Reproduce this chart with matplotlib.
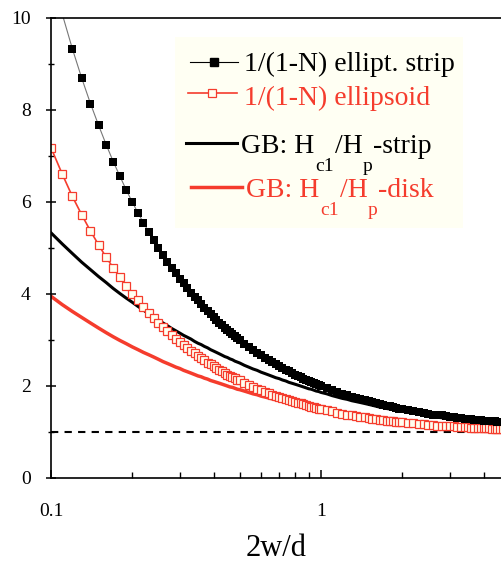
import matplotlib
matplotlib.use("Agg")
import matplotlib.pyplot as plt

# ---------------------------------------------------------------
# 1/(1-N) and geometrical-barrier ratio vs. aspect ratio 2w/d
# ---------------------------------------------------------------

# aspect ratio 2w/d (sampling points)
x = [0.10, 0.11, 0.12, 0.13, 0.14, 0.15, 0.16, 0.17, 0.18, 0.19,
     0.20, 0.21, 0.22, 0.23, 0.24, 0.25, 0.26, 0.27, 0.28, 0.29,
     0.30, 0.31, 0.32, 0.33, 0.34, 0.35, 0.36, 0.37, 0.38, 0.39,
     0.40, 0.41, 0.42, 0.43, 0.44, 0.45, 0.46, 0.47, 0.48, 0.49,
     0.50, 0.52, 0.54, 0.56, 0.58, 0.60, 0.62, 0.64, 0.66, 0.68,
     0.70, 0.72, 0.74, 0.76, 0.78, 0.80, 0.82, 0.84, 0.86, 0.88,
     0.90, 0.92, 0.94, 0.96, 0.98, 1.00, 1.05, 1.10, 1.15, 1.20,
     1.25, 1.30, 1.35, 1.40, 1.45, 1.50, 1.55, 1.60, 1.65, 1.70,
     1.75, 1.80, 1.85, 1.90, 1.95, 2.00, 2.1, 2.2, 2.3, 2.4,
     2.5, 2.6, 2.7, 2.8, 2.9, 3.0, 3.1, 3.2, 3.3, 3.4,
     3.5, 3.6, 3.7, 3.8, 3.9, 4.0, 4.1, 4.2, 4.3, 4.4,
     4.5, 4.6, 4.7]

# 1/(1-N) elliptical strip
strip = [11.00, 10.09, 9.33, 8.69, 8.14, 7.67, 7.25, 6.88, 6.56, 6.26,
         6.00, 5.76, 5.55, 5.35, 5.17, 5.00, 4.85, 4.70, 4.57, 4.45,
         4.33, 4.23, 4.13, 4.03, 3.94, 3.86, 3.78, 3.70, 3.63, 3.56,
         3.50, 3.44, 3.38, 3.33, 3.27, 3.22, 3.17, 3.13, 3.08, 3.04,
         3.00, 2.92, 2.85, 2.79, 2.72, 2.67, 2.61, 2.56, 2.52, 2.47,
         2.43, 2.39, 2.35, 2.32, 2.28, 2.25, 2.22, 2.19, 2.16, 2.14,
         2.11, 2.09, 2.06, 2.04, 2.02, 2.00, 1.95, 1.91, 1.87, 1.83,
         1.80, 1.77, 1.74, 1.71, 1.69, 1.67, 1.65, 1.63, 1.61, 1.59,
         1.57, 1.56, 1.54, 1.53, 1.51, 1.50, 1.48, 1.45, 1.43, 1.42,
         1.40, 1.38, 1.37, 1.36, 1.34, 1.33, 1.32, 1.31, 1.30, 1.29,
         1.29, 1.28, 1.27, 1.26, 1.26, 1.25, 1.24, 1.24, 1.23, 1.23,
         1.22, 1.22, 1.21]

# 1/(1-N) ellipsoid
ellipsoid = [7.18, 6.61, 6.12, 5.72, 5.37, 5.07, 4.80, 4.57, 4.36, 4.17,
             4.01, 3.86, 3.72, 3.59, 3.48, 3.37, 3.28, 3.19, 3.10, 3.03,
             2.95, 2.89, 2.82, 2.76, 2.71, 2.65, 2.60, 2.56, 2.51, 2.47,
             2.43, 2.39, 2.35, 2.32, 2.29, 2.25, 2.22, 2.19, 2.17, 2.14,
             2.12, 2.07, 2.02, 1.98, 1.94, 1.91, 1.87, 1.84, 1.81, 1.79,
             1.76, 1.74, 1.71, 1.69, 1.67, 1.65, 1.63, 1.62, 1.60, 1.58,
             1.57, 1.55, 1.54, 1.53, 1.51, 1.50, 1.47, 1.45, 1.42, 1.40,
             1.38, 1.36, 1.35, 1.33, 1.32, 1.30, 1.29, 1.28, 1.27, 1.26,
             1.25, 1.24, 1.23, 1.22, 1.22, 1.21, 1.20, 1.19, 1.17, 1.17,
             1.16, 1.15, 1.14, 1.13, 1.13, 1.12, 1.12, 1.11, 1.11, 1.10,
             1.10, 1.09, 1.09, 1.09, 1.08, 1.08, 1.08, 1.08, 1.07, 1.07,
             1.07, 1.07, 1.06]

# GB: Hc1/Hp strip
gb_strip = [5.33, 5.09, 4.88, 4.69, 4.53, 4.38, 4.25, 4.12, 4.01, 3.91,
            3.82, 3.73, 3.65, 3.57, 3.50, 3.43, 3.37, 3.31, 3.25, 3.20,
            3.15, 3.10, 3.06, 3.02, 2.97, 2.93, 2.90, 2.86, 2.83, 2.79,
            2.76, 2.73, 2.70, 2.67, 2.64, 2.62, 2.59, 2.57, 2.54, 2.52,
            2.50, 2.45, 2.41, 2.37, 2.34, 2.30, 2.27, 2.24, 2.21, 2.18,
            2.16, 2.13, 2.11, 2.08, 2.06, 2.04, 2.02, 2.00, 1.98, 1.96,
            1.94, 1.93, 1.91, 1.89, 1.88, 1.86, 1.83, 1.79, 1.76, 1.73,
            1.71, 1.68, 1.66, 1.64, 1.62, 1.60, 1.58, 1.56, 1.54, 1.53,
            1.51, 1.50, 1.49, 1.47, 1.46, 1.45, 1.43, 1.41, 1.39, 1.37,
            1.35, 1.34, 1.32, 1.31, 1.30, 1.29, 1.28, 1.26, 1.25, 1.25,
            1.24, 1.23, 1.22, 1.21, 1.21, 1.20, 1.19, 1.19, 1.18, 1.18,
            1.17, 1.17, 1.16]

# GB: Hc1/Hp disk
gb_disk = [3.95, 3.77, 3.62, 3.49, 3.37, 3.26, 3.16, 3.07, 2.99, 2.92,
           2.85, 2.79, 2.73, 2.68, 2.63, 2.58, 2.53, 2.49, 2.45, 2.41,
           2.38, 2.34, 2.31, 2.28, 2.25, 2.22, 2.20, 2.17, 2.15, 2.12,
           2.10, 2.08, 2.06, 2.04, 2.02, 2.00, 1.98, 1.97, 1.95, 1.93,
           1.92, 1.89, 1.86, 1.83, 1.81, 1.78, 1.76, 1.74, 1.72, 1.70,
           1.68, 1.66, 1.65, 1.63, 1.62, 1.60, 1.59, 1.57, 1.56, 1.55,
           1.54, 1.53, 1.51, 1.50, 1.49, 1.48, 1.46, 1.44, 1.42, 1.40,
           1.38, 1.37, 1.35, 1.34, 1.32, 1.31, 1.30, 1.29, 1.28, 1.27,
           1.26, 1.25, 1.24, 1.23, 1.23, 1.22, 1.21, 1.19, 1.18, 1.17,
           1.16, 1.15, 1.15, 1.14, 1.13, 1.12, 1.12, 1.11, 1.11, 1.10,
           1.10, 1.09, 1.09, 1.09, 1.08, 1.08, 1.08, 1.07, 1.07, 1.07,
           1.06, 1.06, 1.06]

y_major = [0, 2, 4, 6, 8, 10]
y_minor = [1, 3, 5, 7, 9]
x_major = [0.1, 1]
x_labels = ["0.1", "1"]

red = "#F53C2D"
cream = "#FFFFF0"
plt.rcParams["font.family"] = ["Liberation Serif", "DejaVu Serif"]

fig = plt.figure(figsize=(5.02, 5.62), dpi=100)
ax = fig.add_axes([51 / 502, 1 - 478 / 562, 451 / 502, 460 / 562])

# reference line N = 0
ax.axhline(1, color="black", lw=1.5, ls=(0, (3.5, 3)))

ax.plot(x, gb_strip, color="black", lw=2.2)
ax.plot(x, gb_disk, color=red, lw=2.5)
ax.plot(x, ellipsoid, color=red, lw=1.2, marker="s", ms=6, mfc=cream, mec=red, mew=0.9)
ax.plot(x, strip, color="#777777", lw=0.8, marker="s", ms=6, mfc="black", mec="black", mew=0)

ax.set_xscale("log")
ax.set_xlim(0.1, 4.68)
ax.set_ylim(0, 10)
ax.set_yticks(y_major)
ax.set_yticks(y_minor, minor=True)
ax.set_xticks(x_major)
ax.set_xticklabels(x_labels)
ax.spines["right"].set_visible(False)
for s in ax.spines.values():
    s.set_linewidth(1.2)
ax.tick_params(axis="y", which="major", direction="inout", length=7, width=1.1, labelsize=14, pad=11)
ax.tick_params(axis="y", which="minor", direction="inout", length=5, width=1.0)
ax.tick_params(axis="x", which="major", direction="in", length=6, width=1.1, labelsize=14, pad=18)
ax.tick_params(axis="x", which="minor", direction="in", length=4, width=1.0, labelbottom=False)
ax.set_xlabel("2w/d", fontsize=22, labelpad=10)

# legend drawn by hand (uneven spacing as in the original)
ax.add_patch(plt.Rectangle((0.275, 0.543), 0.638, 0.416, transform=ax.transAxes,
                           facecolor="#FFFFF3", edgecolor="none", zorder=5))
ax.plot([0.308, 0.415], [0.904, 0.904], transform=ax.transAxes, color="black", lw=0.8, zorder=6)
ax.plot([0.361], [0.904], transform=ax.transAxes, marker="s", ms=5.5, color="black", zorder=6)
ax.plot([0.304, 0.412], [0.837, 0.837], transform=ax.transAxes, color=red, lw=1.2, zorder=6)
ax.plot([0.357], [0.837], transform=ax.transAxes, marker="s", ms=5.5, mfc=cream, mec=red, mew=0.9, zorder=6)
ax.plot([0.299, 0.412], [0.728, 0.728], transform=ax.transAxes, color="black", lw=2.2, zorder=6)
ax.plot([0.310, 0.424], [0.633, 0.633], transform=ax.transAxes, color=red, lw=2.5, zorder=6)
fs = 20
ax.text(0.428, 0.900, "1/(1-N) ellipt. strip", transform=ax.transAxes, fontsize=fs, va="center", zorder=7)
ax.text(0.428, 0.826, "1/(1-N) ellipsoid", transform=ax.transAxes, fontsize=fs, va="center", color=red, zorder=7)


def gb_label(x0, y0, tail, color):
    # subscripts set well below the baseline, as in the original
    t = ax.text(x0, y0, "GB: H", transform=ax.transAxes, fontsize=fs, va="baseline", color=color, zorder=7)
    a = ax.annotate("c1", xy=(1, 0), xycoords=t, xytext=(1, 1), textcoords="offset points",
                    fontsize=14, va="top", color=color, zorder=7)
    b = ax.annotate("/H", xy=(1, 0), xycoords=(a, t), xytext=(0.5, 0), textcoords="offset points",
                    fontsize=fs, va="bottom", color=color, zorder=7)
    c = ax.annotate("p", xy=(1, 0), xycoords=b, xytext=(0, 1), textcoords="offset points",
                    fontsize=14, va="top", color=color, zorder=7)
    ax.annotate(tail, xy=(1, 0), xycoords=(c, t), xytext=(0.5, 0), textcoords="offset points",
                fontsize=fs, va="bottom", color=color, zorder=7)


gb_label(0.421, 0.706, "-strip", "black")
gb_label(0.432, 0.610, "-disk", red)

fig.savefig("out.png", dpi=100)
